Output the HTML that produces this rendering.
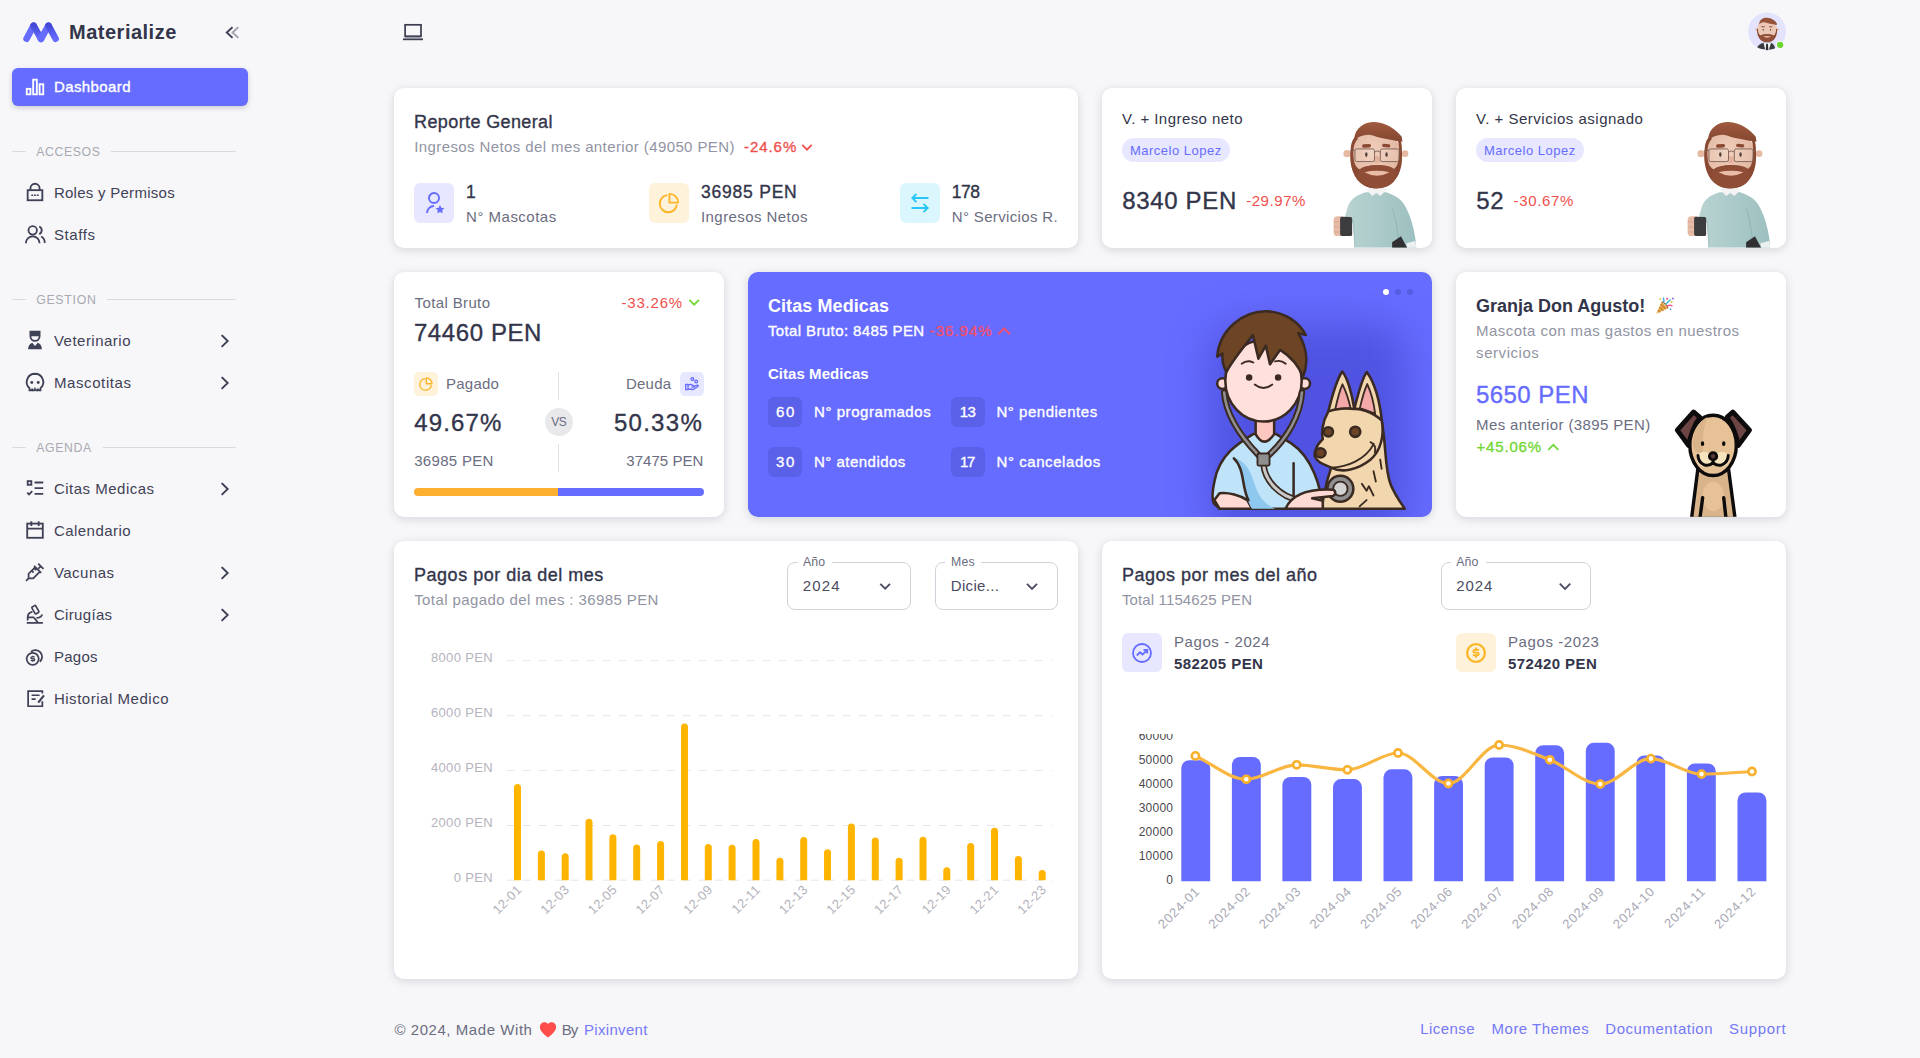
<!DOCTYPE html>
<html lang="es"><head><meta charset="utf-8"><title>Dashboard - Materialize</title>
<style>
html,body{margin:0;padding:0}
body{width:1920px;height:1058px;overflow:hidden;background:#f7f7f9;font-family:"Liberation Sans",sans-serif;position:relative}
.t{position:absolute;white-space:nowrap;line-height:1}
.card{position:absolute;background:#fff;border-radius:10px;box-shadow:0 2px 10px rgba(76,78,100,.2)}
.a{position:absolute}
.ib{position:absolute;border-radius:6px}
.sel{position:absolute;border:1px solid #d2d2da;border-radius:8px;box-sizing:border-box;background:#fff}
.gap{position:absolute;background:#fff;height:3px}
svg{position:absolute;overflow:visible}
</style></head><body>
<div class="a" style="left:12px;top:68px;width:236px;height:38px;border-radius:6px;background:#666cff;box-shadow:0 2px 5px rgba(76,78,100,.25)"></div>
<div class="a" style="left:12px;top:151px;width:14px;height:1px;background:#dadae0"></div>
<div class="a" style="left:111px;top:151px;width:124.6px;height:1px;background:#dadae0"></div>
<div class="a" style="left:12px;top:299px;width:14px;height:1px;background:#dadae0"></div>
<div class="a" style="left:107px;top:299px;width:128.6px;height:1px;background:#dadae0"></div>
<div class="a" style="left:12px;top:447px;width:14px;height:1px;background:#dadae0"></div>
<div class="a" style="left:102.5px;top:447px;width:133.1px;height:1px;background:#dadae0"></div>
<div class="card" style="left:394px;top:87.75px;width:684px;height:160px"></div>
<div class="card" style="left:1102px;top:87.75px;width:330px;height:160px"></div>
<div class="card" style="left:1456px;top:87.75px;width:330px;height:160px"></div>
<div class="card" style="left:394px;top:271.75px;width:330px;height:244.75px"></div>
<div class="card" style="left:748px;top:271.75px;width:684px;height:244.75px;background:#666cff;overflow:hidden"><div class="a" style="left:462px;top:52px;width:196px;height:215px;border-radius:30px;background:rgba(52,52,185,.43);filter:blur(20px)"></div></div>
<div class="card" style="left:1456px;top:271.75px;width:330px;height:244.75px"></div>
<div class="card" style="left:394px;top:540.5px;width:684px;height:438px"></div>
<div class="card" style="left:1102px;top:540.5px;width:684px;height:438px"></div>
<div class="ib" style="left:414.4px;top:183.4px;width:39.5px;height:39.5px;background:#e7e7ff"></div>
<div class="ib" style="left:649.3px;top:183.4px;width:39.5px;height:39.5px;background:#fff2db"></div>
<div class="ib" style="left:900.2px;top:183.4px;width:39.5px;height:39.5px;background:#dcf6fe"></div>
<div class="a" style="left:1122px;top:138px;width:108.2px;height:23.8px;border-radius:12px;background:#e7e7ff"></div>
<div class="a" style="left:1476px;top:138px;width:108.2px;height:23.8px;border-radius:12px;background:#e7e7ff"></div>
<div class="ib" style="left:414px;top:372.2px;width:24px;height:23.5px;border-radius:5px;background:#fff2db"></div>
<div class="ib" style="left:680.2px;top:372.2px;width:24px;height:23.5px;border-radius:5px;background:#e7e7ff"></div>
<div class="a" style="left:558px;top:372.2px;width:1px;height:27.5px;background:#e2e2e8"></div>
<div class="a" style="left:558px;top:444.4px;width:1px;height:27.2px;background:#e2e2e8"></div>
<div class="a" style="left:545.2px;top:408px;width:28px;height:28px;border-radius:50%;background:#e9e9ec"></div>
<div class="a" style="left:414px;top:487.75px;width:290px;height:8.25px;border-radius:5px;background:linear-gradient(90deg,#fdb02f 0,#fdb02f 144px,#666cff 144px)"></div>
<div class="a" style="left:768px;top:397.1px;width:34px;height:29.5px;border-radius:6px;background:#5a60e8"></div>
<div class="a" style="left:768px;top:447.1px;width:34px;height:29.5px;border-radius:6px;background:#5a60e8"></div>
<div class="a" style="left:951.25px;top:397.1px;width:34px;height:29.5px;border-radius:6px;background:#5a60e8"></div>
<div class="a" style="left:951.25px;top:447.1px;width:34px;height:29.5px;border-radius:6px;background:#5a60e8"></div>
<div class="a" style="left:1383px;top:289.2px;width:6px;height:6px;border-radius:50%;background:#fff"></div>
<div class="a" style="left:1395.3px;top:289.2px;width:6px;height:6px;border-radius:50%;background:#565ce0"></div>
<div class="a" style="left:1407px;top:289.2px;width:6px;height:6px;border-radius:50%;background:#565ce0"></div>
<div class="sel" style="left:787.2px;top:562px;width:123.6px;height:47.7px"></div>
<div class="gap" style="left:797.5px;top:561px;width:34.5px"></div>
<div class="sel" style="left:935px;top:562px;width:122.8px;height:47.7px"></div>
<div class="gap" style="left:945px;top:561px;width:35.8px"></div>
<div class="sel" style="left:1440.5px;top:562px;width:150.3px;height:47.7px"></div>
<div class="gap" style="left:1451px;top:561px;width:34.5px"></div>
<div class="ib" style="left:1122.2px;top:633px;width:39.5px;height:39.3px;background:#e7e7ff"></div>
<div class="ib" style="left:1456.2px;top:633px;width:39.8px;height:39.3px;background:#fff2db"></div>
<svg style="left:0;top:0" width="1920" height="1058" viewBox="0 0 1920 1058"><line x1="506.8" x2="1052" y1="660.7" y2="660.7" stroke="#e6e6ea" stroke-width="1" stroke-dasharray="8 8"/><line x1="506.8" x2="1052" y1="715.7" y2="715.7" stroke="#e6e6ea" stroke-width="1" stroke-dasharray="8 8"/><line x1="506.8" x2="1052" y1="770.7" y2="770.7" stroke="#e6e6ea" stroke-width="1" stroke-dasharray="8 8"/><line x1="506.8" x2="1052" y1="825.5" y2="825.5" stroke="#e6e6ea" stroke-width="1" stroke-dasharray="8 8"/><line x1="506.8" x2="1052" y1="880.2" y2="880.2" stroke="#e6e6ea" stroke-width="1" stroke-dasharray="8 8"/><path d="M514.0 880.2V787.5a3.5 3.5 0 0 1 7 0V880.2z" fill="#ffb400"/><path d="M537.9 880.2V853.9a3.5 3.5 0 0 1 7 0V880.2z" fill="#ffb400"/><path d="M561.7 880.2V856.8a3.5 3.5 0 0 1 7 0V880.2z" fill="#ffb400"/><path d="M585.5 880.2V822.2a3.5 3.5 0 0 1 7 0V880.2z" fill="#ffb400"/><path d="M609.4 880.2V837.8a3.5 3.5 0 0 1 7 0V880.2z" fill="#ffb400"/><path d="M633.2 880.2V848.0a3.5 3.5 0 0 1 7 0V880.2z" fill="#ffb400"/><path d="M657.1 880.2V844.5a3.5 3.5 0 0 1 7 0V880.2z" fill="#ffb400"/><path d="M681.0 880.2V726.9a3.5 3.5 0 0 1 7 0V880.2z" fill="#ffb400"/><path d="M704.8 880.2V847.4a3.5 3.5 0 0 1 7 0V880.2z" fill="#ffb400"/><path d="M728.6 880.2V848.3a3.5 3.5 0 0 1 7 0V880.2z" fill="#ffb400"/><path d="M752.5 880.2V842.6a3.5 3.5 0 0 1 7 0V880.2z" fill="#ffb400"/><path d="M776.4 880.2V861.3a3.5 3.5 0 0 1 7 0V880.2z" fill="#ffb400"/><path d="M800.2 880.2V840.6a3.5 3.5 0 0 1 7 0V880.2z" fill="#ffb400"/><path d="M824.0 880.2V852.8a3.5 3.5 0 0 1 7 0V880.2z" fill="#ffb400"/><path d="M847.9 880.2V827.0a3.5 3.5 0 0 1 7 0V880.2z" fill="#ffb400"/><path d="M871.8 880.2V840.9a3.5 3.5 0 0 1 7 0V880.2z" fill="#ffb400"/><path d="M895.6 880.2V861.3a3.5 3.5 0 0 1 7 0V880.2z" fill="#ffb400"/><path d="M919.5 880.2V840.3a3.5 3.5 0 0 1 7 0V880.2z" fill="#ffb400"/><path d="M943.3 880.2V870.7a3.5 3.5 0 0 1 7 0V880.2z" fill="#ffb400"/><path d="M967.2 880.2V846.6a3.5 3.5 0 0 1 7 0V880.2z" fill="#ffb400"/><path d="M991.0 880.2V831.2a3.5 3.5 0 0 1 7 0V880.2z" fill="#ffb400"/><path d="M1014.9 880.2V859.6a3.5 3.5 0 0 1 7 0V880.2z" fill="#ffb400"/><path d="M1038.7 880.2V873.5a3.5 3.5 0 0 1 7 0V880.2z" fill="#ffb400"/><text x="493" y="662.1" text-anchor="end" font-size="13" letter-spacing="0.35" fill="#b4b4bc">8000 PEN</text><text x="493" y="717.1" text-anchor="end" font-size="13" letter-spacing="0.35" fill="#b4b4bc">6000 PEN</text><text x="493" y="772.1" text-anchor="end" font-size="13" letter-spacing="0.35" fill="#b4b4bc">4000 PEN</text><text x="493" y="826.9" text-anchor="end" font-size="13" letter-spacing="0.35" fill="#b4b4bc">2000 PEN</text><text x="493" y="881.6" text-anchor="end" font-size="13" letter-spacing="0.35" fill="#b4b4bc">0 PEN</text><text transform="translate(522.5 890.5) rotate(-45)" text-anchor="end" font-size="13" letter-spacing="0.3" fill="#b4b4bc">12-01</text><text transform="translate(570.2 890.5) rotate(-45)" text-anchor="end" font-size="13" letter-spacing="0.3" fill="#b4b4bc">12-03</text><text transform="translate(617.9 890.5) rotate(-45)" text-anchor="end" font-size="13" letter-spacing="0.3" fill="#b4b4bc">12-05</text><text transform="translate(665.6 890.5) rotate(-45)" text-anchor="end" font-size="13" letter-spacing="0.3" fill="#b4b4bc">12-07</text><text transform="translate(713.3 890.5) rotate(-45)" text-anchor="end" font-size="13" letter-spacing="0.3" fill="#b4b4bc">12-09</text><text transform="translate(761.0 890.5) rotate(-45)" text-anchor="end" font-size="13" letter-spacing="0.3" fill="#b4b4bc">12-11</text><text transform="translate(808.7 890.5) rotate(-45)" text-anchor="end" font-size="13" letter-spacing="0.3" fill="#b4b4bc">12-13</text><text transform="translate(856.4 890.5) rotate(-45)" text-anchor="end" font-size="13" letter-spacing="0.3" fill="#b4b4bc">12-15</text><text transform="translate(904.1 890.5) rotate(-45)" text-anchor="end" font-size="13" letter-spacing="0.3" fill="#b4b4bc">12-17</text><text transform="translate(951.8 890.5) rotate(-45)" text-anchor="end" font-size="13" letter-spacing="0.3" fill="#b4b4bc">12-19</text><text transform="translate(999.5 890.5) rotate(-45)" text-anchor="end" font-size="13" letter-spacing="0.3" fill="#b4b4bc">12-21</text><text transform="translate(1047.2 890.5) rotate(-45)" text-anchor="end" font-size="13" letter-spacing="0.3" fill="#b4b4bc">12-23</text></svg>
<svg style="left:0;top:0" width="1920" height="1058" viewBox="0 0 1920 1058"><defs><clipPath id="yc"><rect x="1110" y="734" width="70" height="160"/></clipPath></defs><path d="M1181.3 881.2V768.2a8 8 0 0 1 8 -8h12.9a8 8 0 0 1 8 8V881.2z" fill="#666cff"/><path d="M1231.9 881.2V765.0a8 8 0 0 1 8 -8h12.9a8 8 0 0 1 8 8V881.2z" fill="#666cff"/><path d="M1282.4 881.2V785.0a8 8 0 0 1 8 -8h12.9a8 8 0 0 1 8 8V881.2z" fill="#666cff"/><path d="M1333.0 881.2V787.1a8 8 0 0 1 8 -8h12.9a8 8 0 0 1 8 8V881.2z" fill="#666cff"/><path d="M1383.5 881.2V777.3a8 8 0 0 1 8 -8h12.9a8 8 0 0 1 8 8V881.2z" fill="#666cff"/><path d="M1434.1 881.2V784.1a8 8 0 0 1 8 -8h12.9a8 8 0 0 1 8 8V881.2z" fill="#666cff"/><path d="M1484.7 881.2V765.4a8 8 0 0 1 8 -8h12.9a8 8 0 0 1 8 8V881.2z" fill="#666cff"/><path d="M1535.2 881.2V753.2a8 8 0 0 1 8 -8h12.9a8 8 0 0 1 8 8V881.2z" fill="#666cff"/><path d="M1585.8 881.2V750.8a8 8 0 0 1 8 -8h12.9a8 8 0 0 1 8 8V881.2z" fill="#666cff"/><path d="M1636.3 881.2V763.4a8 8 0 0 1 8 -8h12.9a8 8 0 0 1 8 8V881.2z" fill="#666cff"/><path d="M1686.9 881.2V771.5a8 8 0 0 1 8 -8h12.9a8 8 0 0 1 8 8V881.2z" fill="#666cff"/><path d="M1737.5 881.2V800.4a8 8 0 0 1 8 -8h12.9a8 8 0 0 1 8 8V881.2z" fill="#666cff"/><path d="M1195.4 755.9 C1212.4 763.7 1229.3 779.3 1246.3 779.3 C1263.1 779.3 1279.9 764.8 1296.7 764.8 C1313.6 764.8 1330.5 769.8 1347.4 769.8 C1364.3 769.8 1381.1 753.0 1398 753 C1414.8 753.0 1431.6 783.5 1448.4 783.5 C1465.3 783.5 1482.2 745.0 1499.1 745 C1516.0 745.0 1532.9 753.3 1549.8 759.8 C1566.6 766.3 1583.5 784.1 1600.3 784.1 C1617.2 784.1 1634.0 758.6 1650.9 758.6 C1667.8 758.6 1684.6 774.1 1701.5 774.1 C1718.3 774.1 1735.2 772.4 1752 771.5" fill="none" stroke="#f9b640" stroke-width="3.2" stroke-linecap="round"/><circle cx="1195.4" cy="755.9" r="3.6" fill="#fff" stroke="#f9b02a" stroke-width="2.6"/><circle cx="1246.3" cy="779.3" r="3.6" fill="#fff" stroke="#f9b02a" stroke-width="2.6"/><circle cx="1296.7" cy="764.8" r="3.6" fill="#fff" stroke="#f9b02a" stroke-width="2.6"/><circle cx="1347.4" cy="769.8" r="3.6" fill="#fff" stroke="#f9b02a" stroke-width="2.6"/><circle cx="1398" cy="753" r="3.6" fill="#fff" stroke="#f9b02a" stroke-width="2.6"/><circle cx="1448.4" cy="783.5" r="3.6" fill="#fff" stroke="#f9b02a" stroke-width="2.6"/><circle cx="1499.1" cy="745" r="3.6" fill="#fff" stroke="#f9b02a" stroke-width="2.6"/><circle cx="1549.8" cy="759.8" r="3.6" fill="#fff" stroke="#f9b02a" stroke-width="2.6"/><circle cx="1600.3" cy="784.1" r="3.6" fill="#fff" stroke="#f9b02a" stroke-width="2.6"/><circle cx="1650.9" cy="758.6" r="3.6" fill="#fff" stroke="#f9b02a" stroke-width="2.6"/><circle cx="1701.5" cy="774.1" r="3.6" fill="#fff" stroke="#f9b02a" stroke-width="2.6"/><circle cx="1752" cy="771.5" r="3.6" fill="#fff" stroke="#f9b02a" stroke-width="2.6"/><g clip-path="url(#yc)"><text x="1173.3" y="883.6" text-anchor="end" font-size="12" letter-spacing="0.25" fill="#4a4a4f">0</text><text x="1173.3" y="859.7" text-anchor="end" font-size="12" letter-spacing="0.25" fill="#4a4a4f">10000</text><text x="1173.3" y="835.7" text-anchor="end" font-size="12" letter-spacing="0.25" fill="#4a4a4f">20000</text><text x="1173.3" y="811.8" text-anchor="end" font-size="12" letter-spacing="0.25" fill="#4a4a4f">30000</text><text x="1173.3" y="787.9" text-anchor="end" font-size="12" letter-spacing="0.25" fill="#4a4a4f">40000</text><text x="1173.3" y="763.9" text-anchor="end" font-size="12" letter-spacing="0.25" fill="#4a4a4f">50000</text><text x="1173.3" y="740.0" text-anchor="end" font-size="12" letter-spacing="0.25" fill="#4a4a4f">60000</text></g><text transform="translate(1200.7 892) rotate(-45)" text-anchor="end" font-size="13" letter-spacing="0.75" fill="#a9aab6">2024-01</text><text transform="translate(1251.3 892) rotate(-45)" text-anchor="end" font-size="13" letter-spacing="0.75" fill="#a9aab6">2024-02</text><text transform="translate(1301.8 892) rotate(-45)" text-anchor="end" font-size="13" letter-spacing="0.75" fill="#a9aab6">2024-03</text><text transform="translate(1352.4 892) rotate(-45)" text-anchor="end" font-size="13" letter-spacing="0.75" fill="#a9aab6">2024-04</text><text transform="translate(1402.9 892) rotate(-45)" text-anchor="end" font-size="13" letter-spacing="0.75" fill="#a9aab6">2024-05</text><text transform="translate(1453.5 892) rotate(-45)" text-anchor="end" font-size="13" letter-spacing="0.75" fill="#a9aab6">2024-06</text><text transform="translate(1504.1 892) rotate(-45)" text-anchor="end" font-size="13" letter-spacing="0.75" fill="#a9aab6">2024-07</text><text transform="translate(1554.6 892) rotate(-45)" text-anchor="end" font-size="13" letter-spacing="0.75" fill="#a9aab6">2024-08</text><text transform="translate(1605.2 892) rotate(-45)" text-anchor="end" font-size="13" letter-spacing="0.75" fill="#a9aab6">2024-09</text><text transform="translate(1655.7 892) rotate(-45)" text-anchor="end" font-size="13" letter-spacing="0.75" fill="#a9aab6">2024-10</text><text transform="translate(1706.3 892) rotate(-45)" text-anchor="end" font-size="13" letter-spacing="0.75" fill="#a9aab6">2024-11</text><text transform="translate(1756.9 892) rotate(-45)" text-anchor="end" font-size="13" letter-spacing="0.75" fill="#a9aab6">2024-12</text></svg>
<svg style="left:20px;top:18px" width="44" height="28" viewBox="20 18 44 28" fill="none" stroke-linecap="round" stroke-linejoin="round" stroke-width="6.6">
<defs><linearGradient id="lg1" x1="0" y1="0" x2="0" y2="1"><stop offset="0" stop-color="#4349d6"/><stop offset="1" stop-color="#666cff"/></linearGradient></defs>
<path d="M26.6 38.7L33.6 25.6" stroke="#666cff"/><path d="M33.6 25.6L41 38.9" stroke="url(#lg1)"/><path d="M41 38.9L48.5 25.6" stroke="#666cff"/><path d="M48.5 25.6L55.6 38.7" stroke="url(#lg1)"/>
<path d="M26.6 38.7L33.6 25.6" stroke="#666cff" stroke-width="6.6" opacity="0"/></svg>
<svg style="left:222px;top:24px" width="20" height="16" viewBox="222 24 20 16" fill="none" stroke-width="2" stroke-linecap="square"><path d="M231.8 27.8L226.8 32.5l5 4.7" stroke="#3f4156"/><path d="M237.6 27.8L232.6 32.5l5 4.7" stroke="#a2a3ae"/></svg>
<svg style="left:402px;top:21px" width="22" height="22" viewBox="402 21 22 22" fill="none" stroke="#3b3d4f" stroke-width="1.7"><rect x="405.1" y="24.8" width="15.9" height="11.4"/><path d="M403 39.3h20" stroke-width="1.8"/><path d="M405 37.6h16" stroke="#9c9dab" stroke-width="1.4"/></svg>
<svg style="left:24px;top:76px" width="22" height="22" viewBox="0 0 24 24" fill="none" stroke="#fff" stroke-width="2"><rect x="3" y="14" width="4" height="6"/><rect x="10" y="4" width="4" height="16"/><rect x="17" y="9" width="4" height="11"/></svg>
<svg style="left:24px;top:181.3px" width="22" height="22" viewBox="0 0 24 24" fill="none" stroke="#3f4156" stroke-width="2"><rect x="4" y="10" width="16" height="11"/><path d="M7 10V8a5 5 0 0 1 10 0v2"/><path d="M8 15.5h2M11 15.5h2M14 15.5h2" stroke-width="1.8"/></svg>
<svg style="left:24px;top:223.3px" width="22" height="22" viewBox="0 0 24 24" fill="none" stroke="#3f4156" stroke-width="2"><circle cx="9.5" cy="8" r="4.6"/><path d="M2 22a7.5 7.5 0 0 1 15 0"/><path d="M16.6 3.8a4.6 4.6 0 0 1 0 8.4" /><path d="M18.7 14.8a7.5 7.5 0 0 1 3.9 7"/></svg>
<svg style="left:24px;top:329.3px" width="22" height="22" viewBox="0 0 24 24" fill="#3f4156" stroke="#3f4156" stroke-width="0"><path d="M6 2h12v6a6 6 0 0 1-12 0z M8 8a4 4 0 0 0 8 0z" fill-rule="evenodd"/><path d="M4.5 22a7.5 7.5 0 0 1 4.5-6.9l3 3.4 3-3.4a7.5 7.5 0 0 1 4.5 6.9z"/></svg>
<svg style="left:24px;top:371.3px" width="22" height="22" viewBox="0 0 24 24" fill="none" stroke="#3f4156" stroke-width="2"><path d="M12 3a9 9 0 0 0-6 15.7V21h3v-2M12 3a9 9 0 0 1 6 15.7V21h-3v-2"/><path d="M9 21h6" /><circle cx="8.5" cy="12.5" r="1.6" fill="#3f4156" stroke="none"/><circle cx="15.5" cy="12.5" r="1.6" fill="#3f4156" stroke="none"/><path d="M12 18v3" stroke-width="1.6"/></svg>
<svg style="left:24px;top:477.3px" width="22" height="22" viewBox="0 0 24 24" fill="none" stroke="#3f4156" stroke-width="2"><rect x="4" y="4.5" width="4" height="4"/><path d="M3.5 17l2 2 3.5-3.5"/><path d="M11.5 5h9.5v2h-9.5zM11.5 11.2h9.5v2h-9.5zM11.5 17.4h9.5v2h-9.5z" fill="#3f4156" stroke="none"/></svg>
<svg style="left:24px;top:519.3px" width="22" height="22" viewBox="0 0 24 24" fill="none" stroke="#3f4156" stroke-width="2"><rect x="3.5" y="5" width="17" height="15.5"/><path d="M3.5 10.5h17M8 2.5v5M16 2.5v5"/></svg>
<svg style="left:24px;top:561.3px" width="22" height="22" viewBox="0 0 24 24" fill="none" stroke="#3f4156" stroke-width="2"><path d="M15.500 2.800l5.700 5.700M18.300 5.700l-2.600 2.600M11 5.300l7.700 7.700M12.300 6.600L5 13.900V19h5.100l7.300-7.300M5 19l-2.800 2.800M8.300 10.600l2.200 2.200M11 7.900l2.200 2.200" stroke-width="1.900"/></svg>
<svg style="left:24px;top:603.3px" width="22" height="22" viewBox="0 0 24 24" fill="none" stroke="#3f4156" stroke-width="2"><rect x="10" y="3" width="4.800" height="8.600" rx="1" transform="rotate(-30 12.400 7.300)" stroke-width="1.800"/><path d="M9.200 9.600C6 10.200 4 12.600 4 15.600V19M4 15.600h7.200M11 16l4.200 5.400M19.900 12.600C19 15 16.500 16.300 13.600 16.300M3 21.700h17.600" stroke-width="1.900"/></svg>
<svg style="left:24px;top:646.3px" width="22" height="22" viewBox="0 0 24 24" fill="none" stroke="#3f4156" stroke-width="2"><circle cx="9.500" cy="14" r="6.600" stroke-width="1.900"/><path d="M7.600 6.300A7.200 7.200 0 1 1 17.300 17.200" stroke-width="1.900"/><path d="M7.400 15.900h3.300a1 1 0 0 0 0-2h-2.200a1 1 0 0 1 0-2h3.200M9.500 10.600v1.300M9.500 15.900v1.300" stroke-width="1.400"/></svg>
<svg style="left:24px;top:687.3px" width="22" height="22" viewBox="0 0 24 24" fill="none" stroke="#3f4156" stroke-width="2"><path d="M20 15.500V21H4.500V4.600H20V7.200" stroke-width="1.900"/><path d="M8.300 9h8.700M8.300 13.300h4.400" stroke-width="1.900"/><path d="M21.800 9.200l-6.300 7.900" stroke-width="2.400"/></svg>
<svg style="left:218px;top:332.8px" width="14" height="16" viewBox="218 332.8 14 16" fill="none" stroke="#3f4156" stroke-width="1.9" stroke-linecap="square"><path d="M222.300 335.6L227.700 340.8l-5.400 5.200"/></svg>
<svg style="left:218px;top:374.8px" width="14" height="16" viewBox="218 374.8 14 16" fill="none" stroke="#3f4156" stroke-width="1.9" stroke-linecap="square"><path d="M222.300 377.6L227.700 382.8l-5.400 5.200"/></svg>
<svg style="left:218px;top:480.8px" width="14" height="16" viewBox="218 480.8 14 16" fill="none" stroke="#3f4156" stroke-width="1.9" stroke-linecap="square"><path d="M222.300 483.6L227.700 488.8l-5.400 5.200"/></svg>
<svg style="left:218px;top:564.8px" width="14" height="16" viewBox="218 564.8 14 16" fill="none" stroke="#3f4156" stroke-width="1.9" stroke-linecap="square"><path d="M222.300 567.5999999999999L227.700 572.8l-5.400 5.200"/></svg>
<svg style="left:218px;top:606.8px" width="14" height="16" viewBox="218 606.8 14 16" fill="none" stroke="#3f4156" stroke-width="1.9" stroke-linecap="square"><path d="M222.300 609.5999999999999L227.700 614.8l-5.400 5.200"/></svg>
<svg style="left:422.2px;top:191.1px" width="24" height="24" viewBox="0 0 24 24" fill="none" stroke="#666cff" stroke-width="1.9"><circle cx="12" cy="7" r="5"/><path d="M5 22a7 7 0 0 1 7-7"/><path d="M18 14l1.350 2.750 3.050.450-2.200 2.150.520 3.020L18 20.950l-2.720 1.420.520-3.020-2.200-2.150 3.050-.450z" fill="#666cff" stroke="none"/></svg>
<svg style="left:657px;top:191.1px" width="24" height="24" viewBox="0 0 24 24" fill="none" stroke="#fdb528" stroke-width="1.9"><path d="M10.300 4.100A8.600 8.600 0 1 0 19.900 13.700"/><path d="M12.400 2.900a8.700 8.700 0 0 1 8.700 8.700h-8.700z" stroke-linejoin="round"/></svg>
<svg style="left:908px;top:191.1px" width="24" height="24" viewBox="0 0 24 24" fill="none" stroke="#26c6f9" stroke-width="1.9"><path d="M20.500 7H5M8.500 2.800L4.300 7l4.200 4.200M3.500 17H19M15.500 12.800l4.200 4.200-4.200 4.200"/></svg>
<svg style="left:418px;top:376px" width="16" height="16" viewBox="0 0 24 24" fill="none" stroke="#fdb528" stroke-width="2.1"><path d="M10.300 4.100A8.600 8.600 0 1 0 19.900 13.700"/><path d="M12.400 2.900a8.700 8.700 0 0 1 8.700 8.700h-8.700z" stroke-linejoin="round"/></svg>
<svg style="left:684.2px;top:376px" width="16" height="16" viewBox="0 0 24 24" fill="none" stroke="#666cff" stroke-width="2"><path d="M2.500 12.500h3.500v8H2.500zM6 13.500l4-1 5 2.200c1 .5.800 2-.5 2h-3.500M15 15.500l5-1.800c1.300-.3 2 1.300.8 2L14 20.300 6 19.500" stroke-linejoin="round" stroke-width="2"/><circle cx="12.500" cy="4.500" r="2.100" stroke-width="1.900"/><circle cx="18.300" cy="8.300" r="2.100" stroke-width="1.900"/></svg>
<svg style="left:1130px;top:641px" width="24" height="24" viewBox="0 0 24 24" fill="none" stroke="#666cff" stroke-width="1.8"><circle cx="12" cy="12" r="9"/><path d="M6.800 14.500l3.200-3.200 2.600 2.200L16.800 9.300M13.500 8.800h3.800v3.800" stroke-width="1.800"/></svg>
<svg style="left:1464.2px;top:641px" width="24" height="24" viewBox="0 0 24 24" fill="none" stroke="#fdb528" stroke-width="2.1"><circle cx="12" cy="12" r="8.800"/><circle cx="12" cy="12" r="9.600" stroke-width="0.600"/><path d="M8.800 14.300h4.500a1.350 1.350 0 0 0 0-2.700h-2.600a1.350 1.350 0 0 1 0-2.700h4.500M12 6.600v2.300M12 14.300v2.500" stroke-width="1.900"/></svg>
<svg style="left:0;top:0" width="1920" height="1058" viewBox="0 0 1920 1058" fill="none" stroke="#f0504d" stroke-width="1.8"><path d="M802.3 144.9L807.0 149.7L811.7 144.9"/></svg>
<svg style="left:0;top:0" width="1920" height="1058" viewBox="0 0 1920 1058" fill="none" stroke="#72d835" stroke-width="1.8"><path d="M689.3 299.9L694.15 304.7L699 299.9"/></svg>
<svg style="left:0;top:0" width="1920" height="1058" viewBox="0 0 1920 1058" fill="none" stroke="#f0506e" stroke-width="2"><path d="M998.3 334.2L1004.15 328.4L1010 334.2"/></svg>
<svg style="left:0;top:0" width="1920" height="1058" viewBox="0 0 1920 1058" fill="none" stroke="#72d835" stroke-width="1.8"><path d="M1548.3 449.8L1553.3 444.8L1558.3 449.8"/></svg>
<svg style="left:0;top:0" width="1920" height="1058" viewBox="0 0 1920 1058" fill="none" stroke="#4a4c60" stroke-width="1.9"><path d="M880.3 583.9L885.15 588.7L890 583.9"/></svg>
<svg style="left:0;top:0" width="1920" height="1058" viewBox="0 0 1920 1058" fill="none" stroke="#4a4c60" stroke-width="1.9"><path d="M1027 583.8L1032.0 588.8L1037 583.8"/></svg>
<svg style="left:0;top:0" width="1920" height="1058" viewBox="0 0 1920 1058" fill="none" stroke="#4a4c60" stroke-width="1.9"><path d="M1559.8 583.7L1565.05 588.9L1570.3 583.7"/></svg>
<svg style="left:539px;top:1021px" width="18" height="17" viewBox="0 0 24 22"><path d="M12 21.500C5 16 1.200 12.300 1.200 7.500 1.200 4 3.900 1.300 7.200 1.300c1.900 0 3.700.900 4.800 2.500 1.100-1.600 2.900-2.500 4.800-2.500 3.300 0 6 2.700 6 6.200 0 4.800-3.800 8.500-10.800 14z" fill="#ff4d49"/></svg>
<svg style="left:1320px;top:110px" width="120" height="140" viewBox="0 0 907 1058"><defs>
<linearGradient id="sw0" x1="0" y1="0" x2="1" y2="0"><stop offset="0" stop-color="#b9d3d1"/><stop offset=".55" stop-color="#a9c9c8"/><stop offset="1" stop-color="#9dbfbf"/></linearGradient>
<radialGradient id="fc0" cx=".45" cy=".4" r=".65"><stop offset="0" stop-color="#f1d0bd"/><stop offset="1" stop-color="#dfb19a"/></radialGradient>
<linearGradient id="hr0" x1="0" y1="0" x2="0" y2="1"><stop offset="0" stop-color="#a05a3f"/><stop offset="1" stop-color="#844630"/></linearGradient>
<clipPath id="mc0"><path d="M0 0H845V965Q845 1041 770 1041H0z"/></clipPath></defs>
<g clip-path="url(#mc0)">
<path d="M345 622C285 640 225 668 205 750L183 828 247 850 262 1045H728C722 900 665 722 600 672 565 645 525 632 500 622z" fill="url(#sw0)"/>
<path d="M548 745C575 830 590 940 600 1045" fill="none" stroke="#8fb3b3" stroke-width="9" opacity=".8"/>
<path d="M250 830C258 900 262 980 262 1045" fill="none" stroke="#95b8b8" stroke-width="7" opacity=".7"/>
<path d="M348 600L395 650 425 628 457 650 503 600 470 585H380z" fill="#f3f3f3"/>
<path d="M545 1000L612 955 660 1045H545z" fill="#303032"/>
<path d="M652 1008L720 990 728 1045H662z" fill="#eef1f1"/>
<rect x="103" y="803" width="85" height="150" rx="30" fill="#e7bca6"/>
<path d="M105 845h60M105 885h60M108 922h55" stroke="#d3a18c" stroke-width="6" fill="none"/>
<path d="M152 818Q152 806 165 806L232 808Q243 808 243 820V940Q243 952 232 952H166Q152 952 152 938z" fill="#3c3c3f"/>
<circle cx="204" cy="330" r="27" fill="#e6b9a3"/><circle cx="643" cy="330" r="25" fill="#e6b9a3"/>
<ellipse cx="425" cy="365" rx="196" ry="218" fill="url(#fc0)"/>
<path d="M229 300C222 430 255 525 330 568 390 602 470 602 530 562 602 515 628 420 619 300L597 305C598 390 585 432 558 446 520 424 470 418 425 420 380 418 335 426 300 450 262 430 250 385 252 305z" fill="#8a4932"/>
<path d="M300 450C340 405 520 405 558 446 600 500 560 560 500 580 450 598 390 595 345 572 280 540 265 490 300 450z" fill="#8f4d35"/>
<path d="M336 470Q430 448 526 470 430 522 336 470z" fill="#e9bca7"/>
<path d="M258 215C268 130 340 88 412 90 500 92 580 150 618 203L623 240C560 228 470 218 400 192 350 178 296 195 258 230z" fill="url(#hr0)"/>
<path d="M232 305C232 260 245 225 262 208L290 215C262 240 254 275 254 308z" fill="#8a4932"/><path d="M619 305C620 270 615 240 606 222L585 225C596 250 598 280 598 308z" fill="#8a4932"/>
<rect x="318" y="258" width="68" height="26" rx="13" fill="#8a4932" transform="rotate(-4 352 271)"/><rect x="470" y="257" width="62" height="25" rx="12" fill="#8a4932" transform="rotate(5 500 270)"/>
<ellipse cx="430" cy="376" rx="25" ry="29" fill="#e3b39d"/>
<ellipse cx="350" cy="337" rx="9" ry="18" fill="#3d2b27"/><ellipse cx="503" cy="337" rx="9" ry="18" fill="#3d2b27"/>
<g fill="rgba(255,255,255,.1)" stroke="#7d6158" stroke-width="7"><rect x="264" y="294" width="148" height="96" rx="14"/><rect x="456" y="294" width="142" height="96" rx="14"/><path d="M412 318Q434 300 456 318" fill="none"/><path d="M264 302L234 312M598 302L620 312" fill="none"/></g>
</g></svg>
<svg style="left:1674px;top:110px" width="120" height="140" viewBox="0 0 907 1058"><defs>
<linearGradient id="sw1" x1="0" y1="0" x2="1" y2="0"><stop offset="0" stop-color="#b9d3d1"/><stop offset=".55" stop-color="#a9c9c8"/><stop offset="1" stop-color="#9dbfbf"/></linearGradient>
<radialGradient id="fc1" cx=".45" cy=".4" r=".65"><stop offset="0" stop-color="#f1d0bd"/><stop offset="1" stop-color="#dfb19a"/></radialGradient>
<linearGradient id="hr1" x1="0" y1="0" x2="0" y2="1"><stop offset="0" stop-color="#a05a3f"/><stop offset="1" stop-color="#844630"/></linearGradient>
<clipPath id="mc1"><path d="M0 0H845V965Q845 1041 770 1041H0z"/></clipPath></defs>
<g clip-path="url(#mc1)">
<path d="M345 622C285 640 225 668 205 750L183 828 247 850 262 1045H728C722 900 665 722 600 672 565 645 525 632 500 622z" fill="url(#sw1)"/>
<path d="M548 745C575 830 590 940 600 1045" fill="none" stroke="#8fb3b3" stroke-width="9" opacity=".8"/>
<path d="M250 830C258 900 262 980 262 1045" fill="none" stroke="#95b8b8" stroke-width="7" opacity=".7"/>
<path d="M348 600L395 650 425 628 457 650 503 600 470 585H380z" fill="#f3f3f3"/>
<path d="M545 1000L612 955 660 1045H545z" fill="#303032"/>
<path d="M652 1008L720 990 728 1045H662z" fill="#eef1f1"/>
<rect x="103" y="803" width="85" height="150" rx="30" fill="#e7bca6"/>
<path d="M105 845h60M105 885h60M108 922h55" stroke="#d3a18c" stroke-width="6" fill="none"/>
<path d="M152 818Q152 806 165 806L232 808Q243 808 243 820V940Q243 952 232 952H166Q152 952 152 938z" fill="#3c3c3f"/>
<circle cx="204" cy="330" r="27" fill="#e6b9a3"/><circle cx="643" cy="330" r="25" fill="#e6b9a3"/>
<ellipse cx="425" cy="365" rx="196" ry="218" fill="url(#fc1)"/>
<path d="M229 300C222 430 255 525 330 568 390 602 470 602 530 562 602 515 628 420 619 300L597 305C598 390 585 432 558 446 520 424 470 418 425 420 380 418 335 426 300 450 262 430 250 385 252 305z" fill="#8a4932"/>
<path d="M300 450C340 405 520 405 558 446 600 500 560 560 500 580 450 598 390 595 345 572 280 540 265 490 300 450z" fill="#8f4d35"/>
<path d="M336 470Q430 448 526 470 430 522 336 470z" fill="#e9bca7"/>
<path d="M258 215C268 130 340 88 412 90 500 92 580 150 618 203L623 240C560 228 470 218 400 192 350 178 296 195 258 230z" fill="url(#hr1)"/>
<path d="M232 305C232 260 245 225 262 208L290 215C262 240 254 275 254 308z" fill="#8a4932"/><path d="M619 305C620 270 615 240 606 222L585 225C596 250 598 280 598 308z" fill="#8a4932"/>
<rect x="318" y="258" width="68" height="26" rx="13" fill="#8a4932" transform="rotate(-4 352 271)"/><rect x="470" y="257" width="62" height="25" rx="12" fill="#8a4932" transform="rotate(5 500 270)"/>
<ellipse cx="430" cy="376" rx="25" ry="29" fill="#e3b39d"/>
<ellipse cx="350" cy="337" rx="9" ry="18" fill="#3d2b27"/><ellipse cx="503" cy="337" rx="9" ry="18" fill="#3d2b27"/>
<g fill="rgba(255,255,255,.1)" stroke="#7d6158" stroke-width="7"><rect x="264" y="294" width="148" height="96" rx="14"/><rect x="456" y="294" width="142" height="96" rx="14"/><path d="M412 318Q434 300 456 318" fill="none"/><path d="M264 302L234 312M598 302L620 312" fill="none"/></g>
</g></svg>
<svg style="left:1150px;top:272px" width="290" height="245" viewBox="0 0 1252 1058" stroke-linejoin="round" stroke-linecap="round">
<g stroke="#3b2a22" stroke-width="11">
<path d="M1000 640C1022 760 1012 850 1040 920 1060 968 1085 1000 1100 1022H740L752 960C760 915 770 880 782 845z" fill="#f1d6ae"/>
<path d="M770 602C790 520 815 452 830 430 850 452 872 520 882 592z" fill="#f1d6ae"/><path d="M882 592C900 520 920 452 936 432 972 482 992 560 1001 642z" fill="#f1d6ae"/>
<path d="M800 592C810 545 822 505 831 485 846 515 858 552 866 588z" fill="#f3a9a9" stroke-width="8"/><path d="M906 588C916 545 928 505 938 484 956 522 967 570 972 612z" fill="#f3a9a9" stroke-width="8"/>
<path d="M770 602C742 650 740 700 746 722 716 750 700 790 720 810 735 830 760 832 782 845 830 870 900 852 950 812 1000 770 1011 700 1001 642 960 602 900 588 882 592 850 586 800 590 770 602z" fill="#f1d6ae"/>
<path d="M782 845C850 842 930 812 966 742M952 735Q978 748 971 778" fill="none" stroke-width="8"/>
<circle cx="770" cy="690" r="20" fill="#6a4424"/><circle cx="886" cy="690" r="22" fill="#6a4424"/><ellipse cx="736" cy="781" rx="22" ry="20" fill="#6a4424"/>
<path d="M905 1012L935 985M915 915L935 945 945 925 965 965M975 905l-10 -45M1000 850l-6 -40" fill="none" stroke-width="8"/>
<path d="M445 700C380 740 300 790 279 900 268 950 268 985 276 1000L300 1022H745C740 930 700 800 610 740L545 700z" fill="#bfe3f8"/>
<path d="M300 1022L278 985 300 955C340 950 390 965 420 985L440 1022z" fill="#ffd9d4"/><path d="M362 800C440 830 440 900 470 960 485 990 510 1010 540 1022H440C400 960 420 880 362 800z" fill="#8fc8ef" stroke="none"/><path d="M362 805C410 850 395 930 425 985" fill="none"/>
<path d="M620 826V962" fill="none"/>
<path d="M456 635V700Q492 765 536 700V635z" fill="#fcc7bf"/>
<circle cx="313" cy="482" r="23" fill="#ffdcd7"/><circle cx="668" cy="482" r="23" fill="#ffdcd7"/>
<ellipse cx="490" cy="470" rx="165" ry="176" fill="#ffe0db"/>
<path d="M290 365C300 250 400 165 512 170 582 175 642 215 673 272L640 264C682 332 682 400 660 452 640 400 600 360 562 336L518 398 500 318 468 374 444 272C400 330 350 390 330 432 318 410 310 380 313 352z" fill="#6d4524"/>
<path d="M396 396Q420 378 446 391M540 386Q565 378 586 396M452 486Q490 516 528 486" fill="none" stroke-width="8"/>
</g>
<circle cx="428" cy="456" r="14" fill="#3b2a22"/><circle cx="553" cy="456" r="14" fill="#3b2a22"/>
<g fill="none"><path d="M320 520C328 620 400 720 470 792M656 520C650 620 590 720 512 792" stroke="#3b2a22" stroke-width="28"/><path d="M320 520C328 620 400 720 470 792M656 520C650 620 590 720 512 792" stroke="#8f8f8f" stroke-width="11"/>
<path d="M490 830C495 900 560 972 645 985" stroke="#3b2a22" stroke-width="28"/><path d="M490 830C495 900 560 972 645 985" stroke="#c9c9c9" stroke-width="13"/></g>
<rect x="464" y="784" width="52" height="52" rx="6" fill="#8f8f8f" stroke="#3b2a22" stroke-width="8"/>
<circle cx="822" cy="936" r="56" fill="#8f8f8f" stroke="#3b2a22" stroke-width="11"/><circle cx="822" cy="936" r="31" fill="#d2d2d2" stroke="#3b2a22" stroke-width="8"/>
<path d="M585 1022C610 965 680 935 790 940 803 945 803 962 790 967L700 977 746 988V1022z" fill="#ffd9d4" stroke="#3b2a22" stroke-width="11"/>
</svg>
<svg style="left:1660px;top:400px" width="110" height="120" viewBox="0 0 970 1058" stroke-linejoin="round" stroke-linecap="round"><defs><clipPath id="dc"><rect x="0" y="0" width="970" height="1029"/></clipPath></defs>
<g clip-path="url(#dc)" stroke="#0e0b0c" stroke-width="30">
<path d="M296 105L152 265 252 402C262 330 300 220 352 152z" fill="#6d4545" stroke-width="42"/><path d="M642 105L790 265 690 402C680 330 642 220 590 152z" fill="#6d4545" stroke-width="42"/>
<path d="M338 575L278 1045H662L600 575z" fill="#d9b48a"/>
<ellipse cx="470" cy="850" rx="95" ry="130" fill="#e6c296" stroke="none"/>
<path d="M376 862L352 1045M562 862L582 1045" fill="none"/>
<ellipse cx="468" cy="400" rx="205" ry="266" fill="#e6c296"/>
<path d="M290 400C290 280 340 180 420 150 380 230 370 380 380 470 340 470 300 460 290 400z" fill="#d9b48a" stroke="none"/>
<circle cx="390" cy="523" r="66" fill="#f6e4be" stroke="none"/><circle cx="546" cy="523" r="66" fill="#f6e4be" stroke="none"/>
<path d="M335 490C340 570 420 600 468 552 516 600 596 570 602 490M468 552V520" fill="none" stroke-width="26"/>
<circle cx="468" cy="496" r="32" fill="#5a3a3b" stroke-width="26"/>
</g>
<ellipse cx="375" cy="385" rx="15" ry="21" fill="#0e0b0c"/><ellipse cx="562" cy="385" rx="15" ry="21" fill="#0e0b0c"/>
</svg>
<svg style="left:1737px;top:2px" width="60" height="60" viewBox="0 0 1058 1058"><defs><clipPath id="ac"><circle cx="530" cy="521" r="335"/></clipPath></defs>
<circle cx="530" cy="521" r="335" fill="#e3e3fd"/>
<g clip-path="url(#ac)">
<path d="M355 800C380 750 440 725 470 720H590C630 728 660 760 672 810 640 850 420 850 355 800z" fill="#3a3d40"/>
<path d="M468 722L500 850H560L600 722z" fill="#f1f1f1"/><path d="M515 735H545L552 850H508z" fill="#2c2e31"/>
<circle cx="345" cy="487" r="22" fill="#e5b8a3"/><circle cx="715" cy="487" r="22" fill="#e5b8a3"/>
<ellipse cx="530" cy="500" rx="178" ry="205" fill="#ecc9b6"/>
<path d="M352 470C350 600 400 680 480 700 540 712 600 700 650 660 700 610 712 540 706 470L690 475C688 540 670 575 650 590 610 570 560 566 530 568 490 566 450 572 415 592 380 575 370 530 370 472z" fill="#8c4a33"/>
<path d="M415 592C450 560 610 560 650 590 690 640 640 690 580 702 530 710 480 705 440 680 390 650 385 620 415 592z" fill="#91503a"/>
<path d="M455 610Q530 590 605 610 530 650 455 610z" fill="#e7bba7"/>
<path d="M392 380C400 310 460 275 530 278 610 282 680 330 706 385L700 405C650 395 560 385 500 362 460 350 420 360 392 395z" fill="#95533b"/>
<ellipse cx="462" cy="490" rx="10" ry="15" fill="#4a342e"/><ellipse cx="592" cy="490" rx="10" ry="15" fill="#4a342e"/>
<rect x="430" y="428" width="60" height="18" rx="9" fill="#8c4a33"/><rect x="565" y="428" width="58" height="18" rx="9" fill="#8c4a33"/>
</g>
<circle cx="760" cy="755" r="72" fill="#f7f7f9"/><circle cx="760" cy="755" r="56" fill="#6ad62f"/></svg>
<svg style="left:1654px;top:296px" width="21" height="20" viewBox="0 0 21 20">
<path d="M2.200 17.800L7.600 5.800 14 12.300z" fill="#e8b04a"/><path d="M3.900 14.200l2.500 2.100M5.300 11l4 3.700M6.600 8l5.300 5" stroke="#c7823a" stroke-width="1.300" fill="none"/>
<path d="M7.600 5.800Q12 7.500 14 12.300" fill="none" stroke="#a8652d" stroke-width="1.200"/>
<path d="M9.500 6.500Q10.500 3.500 9 1.800" stroke="#4aa8e8" stroke-width="1.400" fill="none"/><path d="M13 10Q16 8.500 18.500 10" stroke="#e85a8a" stroke-width="1.400" fill="none"/>
<path d="M11.500 8.500L16.500 3.500" stroke="#35b6c8" stroke-width="1.300" fill="none"/>
<circle cx="13.200" cy="2.800" r="1" fill="#e8467c"/><circle cx="17.600" cy="6" r="1" fill="#f2c230"/><circle cx="16.500" cy="13.200" r="0.900" fill="#4aa8e8"/><circle cx="6.300" cy="3.200" r="0.900" fill="#f2c230"/><circle cx="19" cy="2.500" r="0.900" fill="#7a5fe0"/></svg>
<aside>
<span class="t" style="left:69.1px;top:22.0px;font-size:20px;color:#33354a;font-weight:700;letter-spacing:0.49px;">Materialize</span>
<span class="t" style="left:53.9px;top:79.0px;font-size:15px;color:#fff;letter-spacing:0.42px;-webkit-text-stroke:0.35px #fff;">Dashboard</span>
<span class="t" style="left:36.2px;top:146.0px;font-size:12.3px;color:#a8a9b2;letter-spacing:0.60px;">ACCESOS</span>
<span class="t" style="left:36.2px;top:294.0px;font-size:12.3px;color:#a8a9b2;letter-spacing:0.71px;">GESTION</span>
<span class="t" style="left:36.2px;top:442.0px;font-size:12.3px;color:#a8a9b2;letter-spacing:0.64px;">AGENDA</span>
<span class="t" style="left:53.9px;top:185.0px;font-size:15px;color:#3f4156;letter-spacing:0.27px;">Roles y Permisos</span>
<span class="t" style="left:53.9px;top:227.0px;font-size:15px;color:#3f4156;letter-spacing:0.61px;">Staffs</span>
<span class="t" style="left:53.9px;top:333.0px;font-size:15px;color:#3f4156;letter-spacing:0.49px;">Veterinario</span>
<span class="t" style="left:53.9px;top:375.0px;font-size:15px;color:#3f4156;letter-spacing:0.61px;">Mascotitas</span>
<span class="t" style="left:53.9px;top:481.0px;font-size:15px;color:#3f4156;letter-spacing:0.50px;">Citas Medicas</span>
<span class="t" style="left:53.9px;top:523.0px;font-size:15px;color:#3f4156;letter-spacing:0.46px;">Calendario</span>
<span class="t" style="left:53.9px;top:565.0px;font-size:15px;color:#3f4156;letter-spacing:0.48px;">Vacunas</span>
<span class="t" style="left:53.9px;top:607.0px;font-size:15px;color:#3f4156;letter-spacing:0.33px;">Cirugías</span>
<span class="t" style="left:53.9px;top:649.0px;font-size:15px;color:#3f4156;letter-spacing:0.28px;">Pagos</span>
<span class="t" style="left:53.9px;top:691.0px;font-size:15px;color:#3f4156;letter-spacing:0.53px;">Historial Medico</span>
</aside>
<main>
<span class="t" style="left:414.1px;top:113.0px;font-size:18px;color:#33354a;letter-spacing:0.38px;-webkit-text-stroke:0.35px #33354a;">Reporte General</span>
<span class="t" style="left:414.2px;top:139.0px;font-size:15px;color:#9294a3;letter-spacing:0.40px;">Ingresos Netos del mes anterior (49050 PEN)</span>
<span class="t" style="left:744.1px;top:139.0px;font-size:15px;color:#f0504d;letter-spacing:0.92px;-webkit-text-stroke:0.35px #f0504d;">-24.6%</span>
<span class="t" style="left:466.0px;top:184.0px;font-size:17.5px;color:#33354a;-webkit-text-stroke:0.35px #33354a;">1</span>
<span class="t" style="left:466.1px;top:209.0px;font-size:15px;color:#6b6d80;letter-spacing:0.49px;">N° Mascotas</span>
<span class="t" style="left:701.0px;top:184.0px;font-size:17.5px;color:#33354a;letter-spacing:0.78px;-webkit-text-stroke:0.35px #33354a;">36985 PEN</span>
<span class="t" style="left:701.0px;top:209.0px;font-size:15px;color:#6b6d80;letter-spacing:0.43px;">Ingresos Netos</span>
<span class="t" style="left:951.7px;top:184.0px;font-size:17.5px;color:#33354a;letter-spacing:-0.46px;-webkit-text-stroke:0.35px #33354a;">178</span>
<span class="t" style="left:951.8px;top:209.0px;font-size:15px;color:#6b6d80;letter-spacing:0.34px;">N° Servicios R.</span>
<span class="t" style="left:1122.1px;top:111.0px;font-size:15px;color:#33354a;letter-spacing:0.45px;">V. + Ingreso neto</span>
<span class="t" style="left:1130.0px;top:144.0px;font-size:13px;color:#666cff;letter-spacing:0.49px;">Marcelo Lopez</span>
<span class="t" style="left:1122.3px;top:189.0px;font-size:24px;color:#33354a;letter-spacing:0.65px;-webkit-text-stroke:0.35px #33354a;">8340 PEN</span>
<span class="t" style="left:1246.2px;top:193.0px;font-size:15px;color:#f0504d;letter-spacing:0.55px;">-29.97%</span>
<span class="t" style="left:1476.1px;top:111.0px;font-size:15px;color:#33354a;letter-spacing:0.50px;">V. + Servicios asignado</span>
<span class="t" style="left:1484.0px;top:144.0px;font-size:13px;color:#666cff;letter-spacing:0.49px;">Marcelo Lopez</span>
<span class="t" style="left:1476.3px;top:189.0px;font-size:24px;color:#33354a;letter-spacing:0.54px;-webkit-text-stroke:0.35px #33354a;">52</span>
<span class="t" style="left:1513.5px;top:193.0px;font-size:15px;color:#f0504d;letter-spacing:0.65px;">-30.67%</span>
<span class="t" style="left:414.6px;top:295.0px;font-size:15px;color:#6b6d80;letter-spacing:0.37px;">Total Bruto</span>
<span class="t" style="left:621.6px;top:295.0px;font-size:15px;color:#f0504d;letter-spacing:0.78px;">-33.26%</span>
<span class="t" style="left:413.9px;top:321.0px;font-size:24px;color:#33354a;letter-spacing:0.60px;-webkit-text-stroke:0.35px #33354a;">74460 PEN</span>
<span class="t" style="left:445.9px;top:376.0px;font-size:15px;color:#6b6d80;letter-spacing:0.27px;">Pagado</span>
<span class="t" style="left:625.9px;top:376.0px;font-size:15px;color:#6b6d80;letter-spacing:0.24px;">Deuda</span>
<span class="t" style="left:414.3px;top:411.0px;font-size:24px;color:#33354a;letter-spacing:1.12px;-webkit-text-stroke:0.35px #33354a;">49.67%</span>
<span class="t" style="left:613.9px;top:411.0px;font-size:24px;color:#33354a;letter-spacing:1.29px;-webkit-text-stroke:0.35px #33354a;">50.33%</span>
<span class="t" style="left:551.2px;top:416.0px;font-size:12px;color:#6b6d80;letter-spacing:-0.40px;">VS</span>
<span class="t" style="left:414.2px;top:453.0px;font-size:15px;color:#6b6d80;letter-spacing:0.31px;">36985 PEN</span>
<span class="t" style="left:626.3px;top:453.0px;font-size:15px;color:#6b6d80;letter-spacing:0.04px;">37475 PEN</span>
<span class="t" style="left:767.9px;top:297.0px;font-size:18px;color:#fff;font-weight:700;letter-spacing:0.09px;">Citas Medicas</span>
<span class="t" style="left:767.9px;top:323.0px;font-size:15px;color:#fff;letter-spacing:0.39px;-webkit-text-stroke:0.35px #fff;">Total Bruto: 8485 PEN</span>
<span class="t" style="left:929.8px;top:323.0px;font-size:15px;color:#f0506e;letter-spacing:0.98px;-webkit-text-stroke:0.35px #f0506e;">-36.94%</span>
<span class="t" style="left:767.9px;top:366.0px;font-size:15px;color:#fff;font-weight:700;letter-spacing:0.06px;">Citas Medicas</span>
<span class="t" style="left:776.1px;top:404.0px;font-size:15px;color:#fff;letter-spacing:1.66px;-webkit-text-stroke:0.35px #fff;">60</span>
<span class="t" style="left:814.0px;top:404.0px;font-size:15px;color:#fff;letter-spacing:0.56px;-webkit-text-stroke:0.35px #fff;">N° programados</span>
<span class="t" style="left:959.8px;top:404.0px;font-size:15px;color:#fff;letter-spacing:-0.54px;-webkit-text-stroke:0.35px #fff;">13</span>
<span class="t" style="left:996.5px;top:404.0px;font-size:15px;color:#fff;letter-spacing:0.52px;-webkit-text-stroke:0.35px #fff;">N° pendientes</span>
<span class="t" style="left:776.1px;top:454.0px;font-size:15px;color:#fff;letter-spacing:1.66px;-webkit-text-stroke:0.35px #fff;">30</span>
<span class="t" style="left:814.0px;top:454.0px;font-size:15px;color:#fff;letter-spacing:0.48px;-webkit-text-stroke:0.35px #fff;">N° atendidos</span>
<span class="t" style="left:960.1px;top:454.0px;font-size:15px;color:#fff;letter-spacing:-1.54px;-webkit-text-stroke:0.35px #fff;">17</span>
<span class="t" style="left:996.5px;top:454.0px;font-size:15px;color:#fff;letter-spacing:0.57px;-webkit-text-stroke:0.35px #fff;">N° cancelados</span>
<span class="t" style="left:1476.1px;top:297.0px;font-size:18px;color:#33354a;font-weight:700;letter-spacing:-0.01px;">Granja Don Agusto!</span>
<span class="t" style="left:1476.1px;top:323.0px;font-size:15px;color:#9294a3;letter-spacing:0.44px;">Mascota con mas gastos en nuestros</span>
<span class="t" style="left:1476.1px;top:345.0px;font-size:15px;color:#9294a3;letter-spacing:0.55px;">servicios</span>
<span class="t" style="left:1475.9px;top:383.0px;font-size:24px;color:#666cff;letter-spacing:0.48px;-webkit-text-stroke:0.35px #666cff;">5650 PEN</span>
<span class="t" style="left:1476.1px;top:417.0px;font-size:15px;color:#6b6d80;letter-spacing:0.37px;">Mes anterior (3895 PEN)</span>
<span class="t" style="left:1476.5px;top:439.0px;font-size:15px;color:#72d835;letter-spacing:0.83px;-webkit-text-stroke:0.35px #72d835;">+45.06%</span>
<span class="t" style="left:414.1px;top:566.0px;font-size:18px;color:#33354a;letter-spacing:0.50px;-webkit-text-stroke:0.35px #33354a;">Pagos por dia del mes</span>
<span class="t" style="left:414.2px;top:592.0px;font-size:15px;color:#9294a3;letter-spacing:0.40px;">Total pagado del mes : 36985 PEN</span>
<span class="t" style="left:802.9px;top:556.0px;font-size:12.3px;color:#6b6d80;letter-spacing:0.12px;">Año</span>
<span class="t" style="left:802.8px;top:578.0px;font-size:15px;color:#4a4c60;letter-spacing:1.16px;">2024</span>
<span class="t" style="left:950.9px;top:556.0px;font-size:12.3px;color:#6b6d80;letter-spacing:0.29px;">Mes</span>
<span class="t" style="left:950.8px;top:578.0px;font-size:15px;color:#4a4c60;letter-spacing:0.32px;">Dicie...</span>
<span class="t" style="left:1122.0px;top:566.0px;font-size:18px;color:#33354a;letter-spacing:0.49px;-webkit-text-stroke:0.35px #33354a;">Pagos por mes del año</span>
<span class="t" style="left:1122.0px;top:592.0px;font-size:15px;color:#9294a3;letter-spacing:0.12px;">Total 1154625 PEN</span>
<span class="t" style="left:1456.3px;top:556.0px;font-size:12.3px;color:#6b6d80;letter-spacing:0.12px;">Año</span>
<span class="t" style="left:1456.2px;top:578.0px;font-size:15px;color:#4a4c60;letter-spacing:0.92px;">2024</span>
<span class="t" style="left:1174.0px;top:634.0px;font-size:15px;color:#6b6d80;letter-spacing:0.58px;">Pagos - 2024</span>
<span class="t" style="left:1174.0px;top:656.0px;font-size:15px;color:#33354a;font-weight:700;letter-spacing:0.43px;">582205 PEN</span>
<span class="t" style="left:1508.0px;top:634.0px;font-size:15px;color:#6b6d80;letter-spacing:0.59px;">Pagos -2023</span>
<span class="t" style="left:1508.0px;top:656.0px;font-size:15px;color:#33354a;font-weight:700;letter-spacing:0.41px;">572420 PEN</span>
</main>
<footer>
<span class="t" style="left:394.4px;top:1022.0px;font-size:15px;color:#6b6d80;letter-spacing:0.56px;">© 2024, Made With</span>
<span class="t" style="left:561.8px;top:1022.0px;font-size:15px;color:#6b6d80;letter-spacing:-0.97px;">By</span>
<span class="t" style="left:584.0px;top:1022.0px;font-size:15px;color:#7579f7;letter-spacing:0.32px;">Pixinvent</span>
<span class="t" style="left:1420.3px;top:1021.0px;font-size:15px;color:#7579f7;letter-spacing:0.44px;">License</span>
<span class="t" style="left:1491.6px;top:1021.0px;font-size:15px;color:#7579f7;letter-spacing:0.48px;">More Themes</span>
<span class="t" style="left:1605.3px;top:1021.0px;font-size:15px;color:#7579f7;letter-spacing:0.53px;">Documentation</span>
<span class="t" style="left:1729.1px;top:1021.0px;font-size:15px;color:#7579f7;letter-spacing:0.67px;">Support</span>
</footer>
</body></html>
